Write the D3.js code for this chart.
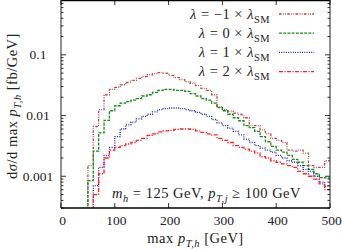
<!DOCTYPE html>
<html>
<head>
<meta charset="utf-8">
<script src="https://cdn.jsdelivr.net/npm/d3@7"></script>
<style>
  body { margin: 0; background: #fff; }
  text { font-family: "Liberation Serif", serif; fill: #222; }
  .wide { letter-spacing: 0.5px; }
</style>
</head>
<body>
<svg id="chart" width="342" height="249"></svg>
<script>
// lower bin edges in GeV (10 GeV bins, last bin ends at 500)
const binLow = [50, 60, 70, 80, 90, 100, 110, 120, 130, 140, 150, 160, 170, 180, 190,
                200, 210, 220, 230, 240, 250, 260, 270, 280, 290, 300, 310, 320, 330, 340,
                350, 360, 370, 380, 390, 400, 410, 420, 430, 440, 450, 460, 470, 480, 490]
const binHigh = 500

// dsigma/d max pT,h [fb/GeV]
const lamMinus1 = [0.0015, 0.0066, 0.0125, 0.022, 0.027, 0.029, 0.032, 0.035, 0.038, 0.041,
                   0.044, 0.047, 0.049, 0.051, 0.050, 0.046, 0.042, 0.039, 0.036, 0.034,
                   0.031, 0.028, 0.026, 0.022, 0.014, 0.0125, 0.0118, 0.011, 0.0104, 0.0092,
                   0.0068, 0.0068, 0.0058, 0.005, 0.0042, 0.0039, 0.0036, 0.0027, 0.0026, 0.0027,
                   0.0024, 0.0015, 0.0014, 0.0014, 0.0018]
const lamZero = [0.00085, 0.0026, 0.0052, 0.0083, 0.012, 0.0145, 0.016, 0.017, 0.018, 0.019,
                 0.021, 0.022, 0.024, 0.026, 0.027, 0.027, 0.026, 0.026, 0.025, 0.023,
                 0.021, 0.019, 0.018, 0.016, 0.0135, 0.012, 0.0105, 0.0092, 0.0082, 0.0068,
                 0.0063, 0.0055, 0.0045, 0.0037, 0.0031, 0.0027, 0.0025, 0.0022, 0.0019, 0.0017,
                 0.0015, 0.0013, 0.0011, 0.00095, 0.00094]
const lamOne = [null, 0.0007, 0.0014, 0.0022, 0.003, 0.0045, 0.006, 0.007, 0.0078, 0.0088,
                0.0097, 0.0105, 0.0115, 0.0125, 0.013, 0.0133, 0.0133, 0.013, 0.0125, 0.012,
                0.0113, 0.0105, 0.0097, 0.0086, 0.0076, 0.0068, 0.0062, 0.0055, 0.0048, 0.0041,
                0.0036, 0.0032, 0.0029, 0.0027, 0.0025, 0.0022, 0.002, 0.0018, 0.0017, 0.0015,
                0.0013, 0.0012, 0.001, 0.0008, 0.00068]
const lamTwo = [null, 0.0005, 0.0011, 0.002, 0.0027, 0.003, 0.0032, 0.0034, 0.0036, 0.0039,
                0.0042, 0.0047, 0.005, 0.0054, 0.0056, 0.0057, 0.0059, 0.006, 0.006, 0.0059,
                0.0056, 0.0053, 0.005, 0.0048, 0.0042, 0.0039, 0.0036, 0.0032, 0.003, 0.0028,
                0.0026, 0.0024, 0.0021, 0.002, 0.0018, 0.0017, 0.0016, 0.0015, 0.0014, 0.0012,
                0.0011, 0.001, 0.0009, 0.00075, 0.0006]

const factors = ["−1", "0", "1", "2"]
const xTicks = [0, 100, 200, 300, 400, 500]
const yMajor = [0.001, 0.01, 0.1]
const yTickLabels = ["0.001", "0.01", "0.1"]

const series = [
  {vals: lamMinus1, color: "#bd4545", dash: "2.6,1.3,0.9,1.3,0.9,1.3"},
  {vals: lamZero,   color: "#1b8a1b", dash: "3,1.2"},
  {vals: lamOne,    color: "#2424c0", dash: "1,1.3"},
  {vals: lamTwo,    color: "#ff2222", dash: "4,1.4,1.2,1.4"}
]

const margin = {top: 0, right: 12, bottom: 41, left: 61},
      width = 342, height = 249,
      plotW = width - margin.left - margin.right,
      plotH = height - margin.top - margin.bottom

const x = d3.scaleLinear().domain([0, 500]).range([0, plotW])
const y = d3.scaleLog().domain([0.0003, 0.8]).range([plotH, 0])

const svg = d3.select("#chart")
const body = svg.append("g").attr("transform", `translate(${margin.left},${margin.top})`)

svg.append("defs").append("clipPath").attr("id", "clip")
  .append("rect").attr("width", plotW).attr("height", plotH)

// write a label made of plain / italic / subscript pieces
function rich(sel, parts, size) {
  let down = false
  parts.forEach(p => {
    const ts = sel.append("tspan").text(p.t)
    if (p.i) ts.style("font-style", "italic")
    if (p.s) {
      ts.style("font-size", (size * 0.72) + "px")
      if (!down) { ts.attr("dy", size * 0.28); down = true }
    } else if (down) {
      ts.attr("dy", -size * 0.28); down = false
    }
  })
}

// histograms
const line = d3.line()
  .x(d => x(d[0]))
  .y(d => y(d[1]))
  .curve(d3.curveStepAfter)

const curves = body.append("g").attr("clip-path", "url(#clip)")
series.forEach(s => {
  const i0 = s.vals.findIndex(v => v !== null)
  const pts = [[binLow[i0], 0.0002]]
  s.vals.forEach((v, i) => { if (v !== null) pts.push([binLow[i], v]) })
  pts.push([binHigh, s.vals[s.vals.length - 1]])
  curves.append("path")
    .attr("d", line(pts))
    .attr("fill", "none")
    .attr("stroke", s.color)
    .attr("stroke-width", 1.3)
    .attr("stroke-dasharray", s.dash)
})

// frame
body.append("line").attr("x1", 0).attr("x2", plotW).attr("y1", 0.6).attr("y2", 0.6)
  .attr("stroke", "#000").attr("stroke-width", 1.3)
body.append("line").attr("x1", 0).attr("x2", plotW).attr("y1", plotH).attr("y2", plotH)
  .attr("stroke", "#000").attr("stroke-width", 1.3)
body.append("line").attr("x1", 0).attr("x2", 0).attr("y1", 0).attr("y2", plotH)
  .attr("stroke", "#555").attr("stroke-width", 1.3)
body.append("line").attr("x1", plotW).attr("x2", plotW).attr("y1", 0).attr("y2", plotH)
  .attr("stroke", "#555").attr("stroke-width", 1.3)

// x ticks, pointing inwards, bottom and top
const tickG = body.append("g").attr("stroke", "#000").attr("stroke-width", 0.8)
xTicks.forEach(t => {
  tickG.append("line").attr("x1", x(t)).attr("x2", x(t)).attr("y1", plotH).attr("y2", plotH - 5)
  tickG.append("line").attr("x1", x(t)).attr("x2", x(t)).attr("y1", 0).attr("y2", 5)
})

// y ticks, major and minor, left and right
const yMinor = []
yMajor.concat([1]).forEach(m => {
  for (let k = 2; k <= 9; k++) yMinor.push(m / 10 * k)
})
yMinor.filter(v => v >= 0.0003 && v <= 0.8).forEach(v => {
  tickG.append("line").attr("x1", 0).attr("x2", 2.5).attr("y1", y(v)).attr("y2", y(v))
  tickG.append("line").attr("x1", plotW).attr("x2", plotW - 2.5).attr("y1", y(v)).attr("y2", y(v))
})
yMajor.forEach(v => {
  tickG.append("line").attr("x1", 0).attr("x2", 5).attr("y1", y(v)).attr("y2", y(v))
  tickG.append("line").attr("x1", plotW).attr("x2", plotW - 5).attr("y1", y(v)).attr("y2", y(v))
})

// tick labels
body.selectAll(".xlab").data(xTicks).enter().append("text")
  .attr("x", d => x(d) + 1.5)
  .attr("y", plotH + 17)
  .attr("text-anchor", "middle")
  .style("font-size", "13.5px")
  .text(d => d)

body.selectAll(".ylab").data(yMajor).enter().append("text")
  .attr("x", -23)
  .attr("y", d => y(d) + 4.5)
  .attr("text-anchor", "middle")
  .style("font-size", "13.5px")
  .text((d, i) => yTickLabels[i])

// axis titles
const xTitle = body.append("text")
  .attr("class", "wide")
  .attr("x", plotW / 2)
  .attr("y", plotH + 35)
  .attr("text-anchor", "middle")
  .style("font-size", "14.5px")
rich(xTitle, [{t: "max "}, {t: "p", i: true}, {t: "T,h", i: true, s: true}, {t: " [GeV]"}], 14.5)

const yTitle = svg.append("text")
  .attr("class", "wide")
  .attr("transform", `translate(17,${plotH / 2 + 2}) rotate(-90)`)
  .attr("text-anchor", "middle")
  .style("font-size", "14.5px")
rich(yTitle, [{t: "d"}, {t: "σ", i: true}, {t: "/d max "}, {t: "p", i: true},
              {t: "T,h", i: true, s: true}, {t: " [fb/GeV]"}], 14.5)

// annotation
const note = body.append("text")
  .attr("class", "wide")
  .attr("x", 51)
  .attr("y", 198)
  .style("font-size", "14.5px")
rich(note, [{t: "m", i: true}, {t: "h", i: true, s: true}, {t: " = 125 GeV, "},
            {t: "p", i: true}, {t: "T,j", i: true, s: true}, {t: " ≥ 100 GeV"}], 14.5)

// legend
const legend = body.append("g")
series.forEach((s, i) => {
  const ly = 14 + i * 19.2
  const t = legend.append("text")
    .attr("class", "wide")
    .attr("x", 209)
    .attr("y", ly + 4.5)
    .attr("text-anchor", "end")
    .style("font-size", "14.5px")
  rich(t, [{t: "λ", i: true}, {t: " = " + factors[i] + " × "}, {t: "λ", i: true},
           {t: "SM", s: true}], 14.5)
  legend.append("line")
    .attr("x1", 218).attr("x2", 253)
    .attr("y1", ly).attr("y2", ly)
    .attr("stroke", s.color)
    .attr("stroke-width", 1.3)
    .attr("stroke-dasharray", s.dash)
})
</script>
</body>
</html>
